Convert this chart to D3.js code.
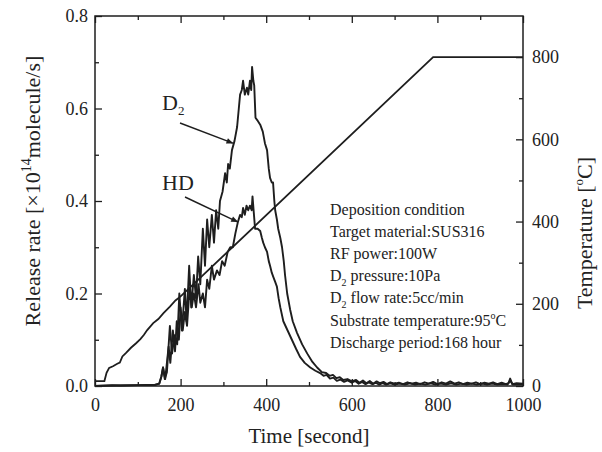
<!DOCTYPE html>
<html><head><meta charset="utf-8">
<script src="https://cdn.jsdelivr.net/npm/d3@7"></script>
<style>body{margin:0;background:#fff}svg text{font-family:"Liberation Serif","Times New Roman",serif !important;fill:#222}</style>
</head><body><svg id="c" width="602" height="452"></svg>
<script>
const xTicks = [0,200,400,600,800,1000];
const yLeftTicks = [0,0.2,0.4,0.6,0.8];
const yRightTicks = [0,200,400,600,800];

const tempSeries = [[0,12],[22,12],[27,32],[33,44],[42,48],[52,54],[58,57],[64,72],[72,80],[84,93],[96,104],[106,114],[114,124],[122,136],[136,153],[148,163],[160,177],[175,193],[188,208],[200,218],[790,800],[1000,800]];

const d2Series = [[0,0],[40,0.002],[60,0.001],[100,0.002],[140,0.003],[150,0.005],[155,0.02],[159,0.04],[163,0.015],[168,0.03],[175,0.13],[180,0.07],[186,0.11],[192,0.09],[197,0.2],[203,0.12],[210,0.21],[214,0.14],[220,0.26],[225,0.17],[231,0.24],[236,0.19],[241,0.28],[246,0.22],[252,0.34],[257,0.26],[262,0.36],[267,0.3],[273,0.37],[278,0.31],[283,0.38],[288,0.34],[292,0.4],[298,0.42],[304,0.46],[308,0.44],[311,0.48],[315,0.47],[320,0.51],[326,0.53],[332,0.56],[336,0.6],[339,0.63],[343,0.64],[346,0.66],[350,0.63],[355,0.645],[358,0.63],[362,0.66],[365,0.64],[367,0.69],[370,0.66],[372,0.65],[375,0.58],[379,0.575],[386,0.565],[392,0.55],[397,0.525],[402,0.51],[406,0.47],[409,0.45],[413,0.44],[416,0.44],[419,0.4],[421,0.38],[425,0.36],[428,0.34],[433,0.32],[437,0.3],[441,0.27],[444,0.24],[449,0.2],[456,0.165],[462,0.14],[472,0.115],[484,0.09],[496,0.07],[508,0.052],[519,0.04],[530,0.03],[540,0.028],[548,0.022],[556,0.024],[564,0.017],[572,0.019],[580,0.013],[590,0.015],[600,0.01],[610,0.013],[618,0.007],[626,0.012],[634,0.006],[642,0.011],[650,0.005],[658,0.01],[666,0.006],[674,0.009],[682,0.004],[690,0.008],[700,0.005],[710,0.007],[720,0.004],[730,0.008],[740,0.005],[750,0.007],[760,0.004],[770,0.008],[780,0.005],[790,0.009],[800,0.004],[810,0.008],[820,0.005],[830,0.01],[840,0.005],[850,0.008],[860,0.004],[870,0.007],[880,0.005],[890,0.008],[900,0.004],[910,0.007],[920,0.005],[930,0.008],[940,0.004],[950,0.007],[960,0.004],[966,0.006],[970,0.016],[975,0.004],[985,0.006],[1000,0.005]];

const hdSeries = [[0,0],[50,0.001],[100,0.002],[140,0.002],[150,0.005],[155,0.02],[159,0.04],[164,0.015],[172,0.085],[176,0.05],[182,0.12],[187,0.075],[191,0.14],[196,0.1],[200,0.17],[205,0.12],[210,0.16],[215,0.13],[221,0.21],[226,0.17],[231,0.2],[236,0.17],[242,0.22],[246,0.18],[252,0.2],[257,0.17],[262,0.23],[267,0.21],[273,0.26],[278,0.23],[285,0.25],[291,0.24],[297,0.27],[303,0.26],[310,0.29],[316,0.3],[322,0.3],[328,0.33],[334,0.355],[339,0.37],[343,0.365],[346,0.385],[350,0.37],[354,0.39],[358,0.38],[362,0.39],[366,0.38],[368,0.41],[371,0.375],[374,0.34],[380,0.34],[386,0.335],[390,0.32],[393,0.31],[397,0.3],[402,0.29],[406,0.27],[409,0.26],[413,0.245],[417,0.235],[421,0.225],[425,0.215],[429,0.19],[433,0.17],[440,0.14],[450,0.12],[460,0.1],[470,0.08],[479,0.063],[490,0.05],[503,0.04],[515,0.033],[526,0.028],[534,0.022],[541,0.024],[549,0.016],[557,0.018],[565,0.011],[573,0.014],[582,0.009],[590,0.012],[600,0.007],[608,0.011],[616,0.005],[624,0.009],[632,0.004],[640,0.008],[648,0.004],[656,0.007],[664,0.003],[672,0.006],[680,0.003],[690,0.006],[700,0.003],[712,0.005],[724,0.003],[736,0.006],[748,0.003],[760,0.005],[772,0.003],[784,0.006],[796,0.003],[808,0.005],[820,0.003],[832,0.006],[844,0.003],[856,0.005],[868,0.003],[880,0.005],[892,0.003],[904,0.005],[916,0.003],[928,0.005],[940,0.003],[952,0.004],[964,0.003],[970,0.012],[976,0.003],[1000,0.003]];

const conditionLines = ["Deposition condition","Target material:SUS316","RF power:100W","D|2| pressure:10Pa","D|2| flow rate:5cc/min","Substrate temperature:95°C","Discharge period:168 hour"];

const svg = d3.select("#c");
const L = 95, R = 523, T = 16, B = 386;
const x = d3.scaleLinear().domain([0,1000]).range([L,R]);
const y = d3.scaleLinear().domain([0,0.8]).range([B,T]);
const y2 = d3.scaleLinear().domain([0,900]).range([B,T]);

const ink = "#1e1e1e";
const line = d3.line().x(d=>x(d[0])).y(d=>y(d[1]));
const line2 = d3.line().x(d=>x(d[0])).y(d=>y2(d[1]));

svg.append("path").datum(tempSeries).attr("d",line2).attr("fill","none").attr("stroke",ink).attr("stroke-width",1.8);
svg.append("path").datum(hdSeries).attr("d",line).attr("fill","none").attr("stroke",ink).attr("stroke-width",1.9).attr("stroke-linejoin","round");
svg.append("path").datum(d2Series).attr("d",line).attr("fill","none").attr("stroke",ink).attr("stroke-width",1.9).attr("stroke-linejoin","round");

// axes
const fs = 18;
function styleAxis(g){ g.attr("font-family",null); g.select(".domain").remove(); g.selectAll("line").attr("stroke",ink).attr("stroke-width",1.3); g.selectAll("text").attr("font-size",fs).attr("fill","#222").style("font-family","'Liberation Serif', serif"); }
const minorX = d3.range(100,1000,200);
svg.append("g").attr("transform",`translate(0,${B})`).call(d3.axisBottom(x).tickValues(xTicks).tickSize(-7).tickPadding(12).tickFormat(d3.format("d"))).call(styleAxis);
svg.append("g").attr("transform",`translate(0,${B})`).call(d3.axisBottom(x).tickValues(minorX).tickSize(-4).tickFormat("")).call(styleAxis);
svg.append("g").attr("transform",`translate(0,${T})`).call(d3.axisTop(x).tickValues(xTicks).tickSize(-7).tickFormat("")).call(styleAxis);
svg.append("g").attr("transform",`translate(0,${T})`).call(d3.axisTop(x).tickValues(minorX).tickSize(-4).tickFormat("")).call(styleAxis);
svg.append("g").attr("transform",`translate(${L},0)`).call(d3.axisLeft(y).tickValues(yLeftTicks).tickSize(-7).tickPadding(7).tickFormat(d3.format(".1f"))).call(styleAxis);
svg.append("g").attr("transform",`translate(${L},0)`).call(d3.axisLeft(y).tickValues([0.1,0.3,0.5,0.7]).tickSize(-4).tickFormat("")).call(styleAxis);
svg.append("g").attr("transform",`translate(${R},0)`).call(d3.axisRight(y2).tickValues(yRightTicks).tickSize(-7).tickPadding(9).tickFormat(d3.format("d"))).call(styleAxis);
svg.append("g").attr("transform",`translate(${R},0)`).call(d3.axisRight(y2).tickValues([100,300,500,700]).tickSize(-4).tickFormat("")).call(styleAxis);
svg.append("rect").attr("x",L).attr("y",T).attr("width",R-L).attr("height",B-T).attr("fill","none").attr("stroke",ink).attr("stroke-width",1.5);

// titles
svg.append("text").attr("x",309).attr("y",443).attr("text-anchor","middle").attr("font-size",21).text("Time [second]");
const lt = svg.append("text").attr("transform","translate(40,191) rotate(-90)").attr("text-anchor","middle").attr("font-size",22);
lt.append("tspan").text("Release rate [×10");
lt.append("tspan").attr("font-size",14).attr("dy",-9).text("14");
lt.append("tspan").attr("dy",9).text("molecule/s]");
const rt = svg.append("text").attr("transform","translate(592,233) rotate(-90)").attr("text-anchor","middle").attr("font-size",22);
rt.append("tspan").text("Temperature [");
rt.append("tspan").attr("font-size",13).attr("dy",-9).text("o");
rt.append("tspan").attr("dy",9).text("C]");

// labels with arrows
function sublabel(txt, sub, px, py){
  const t = svg.append("text").attr("x",px).attr("y",py).attr("font-size",22).text(txt);
  if(sub) t.append("tspan").attr("font-size",13).attr("dy",5).text(sub);
}
sublabel("D","2",162,110);
sublabel("HD","",162,190);
svg.append("defs").append("marker").attr("id","ah").attr("viewBox","0 0 10 10").attr("refX",9).attr("refY",5).attr("markerWidth",7).attr("markerHeight",5).attr("orient","auto")
  .append("path").attr("d","M0,1 L10,5 L0,9 z").attr("fill",ink);
svg.append("line").attr("x1",180).attr("y1",123).attr("x2",x(322)).attr("y2",y(0.525)).attr("stroke",ink).attr("stroke-width",1.4).attr("marker-end","url(#ah)");
svg.append("line").attr("x1",185).attr("y1",197).attr("x2",x(333)).attr("y2",y(0.355)).attr("stroke",ink).attr("stroke-width",1.4).attr("marker-end","url(#ah)");

// condition text
conditionLines.forEach((s,i)=>{
  const t = svg.append("text").attr("x",330).attr("y",[215,237,259,281,303,326,348][i]).attr("font-size",16);
  const parts = s.split("|");
  if(parts.length===3){ t.append("tspan").text(parts[0]); t.append("tspan").attr("font-size",10).attr("dy",5).text(parts[1]); t.append("tspan").attr("dy",-5).text(parts[2]); }
  else if(s.includes("°C")){ t.append("tspan").text(s.replace("°C","")); t.append("tspan").attr("font-size",10).attr("dy",-7).text("o"); t.append("tspan").attr("dy",7).text("C"); }
  else t.text(s);
});
</script></body></html>
